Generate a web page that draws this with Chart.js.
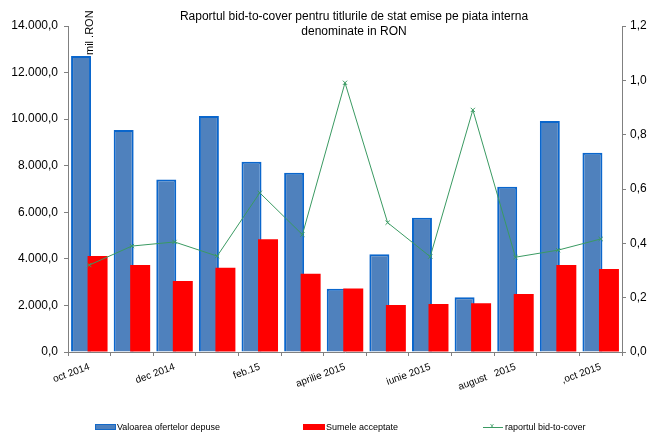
<!DOCTYPE html>
<html>
<head>
<meta charset="utf-8">
<script src="https://cdn.jsdelivr.net/npm/chart.js@4"></script>
<style>
  html, body { margin: 0; padding: 0; background: #fff; overflow: hidden; }
  #wrap { position: relative; width: 649px; height: 435px; font-family: Arial, "Liberation Sans", sans-serif; }
  #title { position: absolute; left: 254px; width: 200px; top: 9px; text-align: center; font-size: 12px; line-height: 15px; white-space: nowrap; }
  #title div { display: block; margin-left: -100px; width: 400px; }
  #unit { position: absolute; left: 69px; top: 29px; font-size: 11px; transform: rotate(-90deg); transform-origin: center; width: 40px; text-align: center; white-space: nowrap; }
  .leg { position: absolute; font-size: 9px; top: 421px; white-space: nowrap; line-height: 12px; }
  .sw { position: absolute; }
</style>
</head>
<body>
<div id="wrap">
  <canvas id="barCanvas"></canvas>
  <div id="title"><div>Raportul bid-to-cover pentru titlurile de stat emise pe piata interna</div><div>denominate in RON</div></div>
  <div id="unit">mil .RON</div>
  <div class="sw" style="left:95px;top:424px;width:19px;height:4px;background:#4f81bd;border:1px solid #1469c8;"></div>
  <div class="leg" style="left:117px;">Valoarea ofertelor depuse</div>
  <div class="sw" style="left:303px;top:424px;width:22px;height:6px;background:#ff0000;"></div>
  <div class="leg" style="left:326px;">Sumele acceptate</div>
  <div class="sw" style="left:483px;top:427px;width:20px;height:1px;background:#3a9a62;"></div>
  <div class="leg" style="left:490px;top:420px;color:#3a9a62;font-size:8px;">x</div>
  <div class="leg" style="left:505px;">raportul bid-to-cover</div>
</div>
<script>
// luni oct 2014 - oct 2015
const categories = ["oct 2014", "nov 2014", "dec 2014", "ian 2015", "feb.15", "mar 2015", "aprilie 2015",
                    "mai 2015", "iunie 2015", "iulie 2015", "august   2015", "sep 2015", ",oct 2015"];
const tickLabels = ["oct 2014", "", "dec 2014", "", "feb.15", "", "aprilie 2015",
                    "", "iunie 2015", "", "august   2015", "", ",oct 2015"];
// mil. RON
const ofertePuse = [12710, 9530, 7410, 10140, 8170, 7700, 2720, 4200, 5770, 2350, 7100, 9920, 8560];
const sumeAcceptate = [4120, 3740, 3050, 3620, 4840, 3360, 2730, 2020, 2060, 2090, 2490, 3740, 3560];
const bidToCover = [0.32, 0.39, 0.405, 0.353, 0.586, 0.432, 0.991, 0.476, 0.351, 0.891, 0.349, 0.375, 0.416];

const leftTicks = [0, 2000, 4000, 6000, 8000, 10000, 12000, 14000];
const rightTicks = [0, 0.2, 0.4, 0.6, 0.8, 1.0, 1.2];

function fmtRo(v) {
    const parts = v.toFixed(1).split(".");
    return parts[0].replace(/\B(?=(\d{3})+(?!\d))/g, ".") + "," + parts[1];
}

const axisColor = "#808080";
const font = { family: "Arial, 'Liberation Sans', sans-serif", size: 12 };

// blue bars sit left in each group but must be painted under the red ones
const blueUnder = {
    id: "blueUnder",
    beforeDatasetsDraw(chart) {
        const meta = chart.getDatasetMeta(1);
        const area = chart.chartArea;
        const ctx = chart.ctx;
        ctx.save();
        ctx.beginPath();
        ctx.rect(area.left, area.top, area.right - area.left, area.bottom - area.top);
        ctx.clip();
        meta.controller.draw();
        ctx.restore();
    },
    beforeDatasetDraw(chart, args) {
        if (args.index === 1) return false;
    }
};

const barCanvas = document.getElementById("barCanvas");
const barChart = new Chart(barCanvas, {
    type: "bar",
    data: {
        labels: categories,
        datasets: [
            {
                type: "line",
                label: "raportul bid-to-cover",
                data: bidToCover,
                yAxisID: "y1",
                borderColor: "#3a9a62",
                backgroundColor: "#3a9a62",
                borderWidth: 1,
                pointStyle: "crossRot",
                pointRadius: 3,
                pointBorderWidth: 1,
                tension: 0
            },
            {
                label: "Valoarea ofertelor depuse",
                data: ofertePuse,
                yAxisID: "y",
                backgroundColor: "#4f81bd",
                borderColor: "#0a66cc",
                borderWidth: 2,
                barPercentage: 1.21,
                categoryPercentage: 0.775
            },
            {
                label: "Sumele acceptate",
                data: sumeAcceptate,
                yAxisID: "y",
                backgroundColor: "#ff0000",
                borderWidth: 0,
                barPercentage: 1.21,
                categoryPercentage: 0.775
            }
        ]
    },
    options: {
        responsive: true,
        maintainAspectRatio: false,
        animation: false,
        layout: { padding: { top: 26, left: 0, right: 0, bottom: 0 } },
        plugins: {
            legend: { display: false },
            title: { display: false },
            tooltip: { enabled: false }
        },
        scales: {
            x: {
                grid: { drawOnChartArea: false, color: axisColor, tickLength: 4, offset: true },
                border: { color: axisColor },
                ticks: {
                    autoSkip: false,
                    maxRotation: 20,
                    minRotation: 20,
                    color: "#000",
                    padding: 5,
                    font: { family: font.family, size: 10 },
                    callback: (v, i) => tickLabels[i]
                },
                afterFit: s => { s.height = 83; }
            },
            y: {
                position: "left",
                min: 0,
                max: 14000,
                grid: { drawOnChartArea: false, color: axisColor, tickLength: 4 },
                border: { color: axisColor },
                afterBuildTicks: s => { s.ticks = leftTicks.map(v => ({ value: v })); },
                ticks: {
                    color: "#000",
                    padding: 6,
                    font: font,
                    callback: v => fmtRo(v)
                },
                afterFit: s => { s.width = 68; }
            },
            y1: {
                position: "right",
                min: 0,
                max: 1.2,
                grid: { drawOnChartArea: false, color: axisColor, tickLength: 4 },
                border: { color: axisColor },
                afterBuildTicks: s => { s.ticks = rightTicks.map(v => ({ value: v })); },
                ticks: {
                    color: "#000",
                    padding: 4,
                    font: font,
                    callback: v => v.toFixed(1).replace(".", ",")
                },
                afterFit: s => { s.width = 27; }
            }
        }
    },
    plugins: [blueUnder]
});
</script>
</body>
</html>
